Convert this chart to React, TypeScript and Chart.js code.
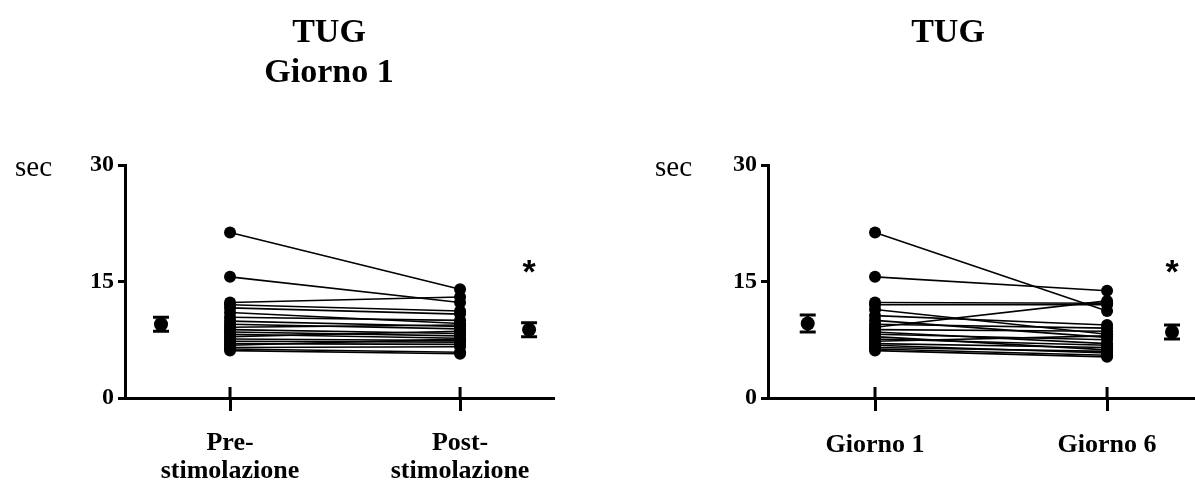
import React, { useEffect, useRef } from 'react';
import { Chart, registerables } from 'chart.js';

Chart.register(...registerables);

// ---------- DATA ----------
const leftTitle = ['TUG', 'Giorno 1'];
const leftCategories = [['Pre-', 'stimolazione'], ['Post-', 'stimolazione']];
const leftPre = [21.3, 15.6, 12.3, 12.0, 11.6, 11.0, 10.4, 9.9, 9.5, 9.1, 8.8, 8.5, 8.2, 7.9, 7.6, 7.3, 7.0, 6.8, 6.5, 6.3, 6.1];
const leftPost = [14.0, 12.3, 13.0, 11.2, 10.8, 9.6, 10.0, 9.2, 8.9, 9.4, 8.3, 8.0, 7.7, 8.6, 7.4, 7.2, 6.9, 7.6, 6.6, 5.9, 5.7];
const leftMeans = [9.5, 8.8];
const leftSem = [0.9, 0.9];

const rightTitle = ['TUG'];
const rightCategories = ['Giorno 1', 'Giorno 6'];
const rightDay1 = [21.3, 15.6, 12.3, 12.0, 11.4, 10.6, 10.0, 9.5, 9.1, 8.8, 8.5, 8.2, 7.9, 7.6, 7.3, 7.0, 6.8, 6.5, 6.3, 6.1];
const rightDay6 = [11.2, 13.8, 12.2, 12.0, 8.2, 9.4, 7.8, 9.0, 12.5, 8.6, 7.0, 7.5, 6.2, 6.8, 8.0, 6.5, 5.8, 6.0, 5.5, 5.3];
const rightMeans = [9.6, 8.5];
const rightSem = [1.1, 0.9];

const yTicks = [0, 15, 30];
const yUnit = 'sec';
const sigMark = '*';
const sigValue = 17.4;

const SERIF = '"Liberation Serif", "Times New Roman", serif';

const extrasPlugin = {
  id: 'extras',
  beforeDatasetsDraw(chart: any, _args: any, opts: any) {
    const { ctx, scales } = chart;
    const x = scales.x, y = scales.y;
    ctx.save();
    ctx.strokeStyle = '#000';
    ctx.lineWidth = 3;
    opts.means.forEach((m: number, i: number) => {
      const px = x.getPixelForValue(opts.meanX[i]);
      const top = y.getPixelForValue(m + opts.sem[i]);
      const bot = y.getPixelForValue(m - opts.sem[i]);
      ctx.beginPath();
      ctx.moveTo(px, top); ctx.lineTo(px, bot);
      ctx.moveTo(px - 8, top); ctx.lineTo(px + 8, top);
      ctx.moveTo(px - 8, bot); ctx.lineTo(px + 8, bot);
      ctx.stroke();
    });
    ctx.restore();
  },
  afterDraw(chart: any, _args: any, opts: any) {
    const { ctx, scales, chartArea } = chart;
    const x = scales.x, y = scales.y;
    ctx.save();
    // upward part of category ticks
    ctx.strokeStyle = '#000';
    ctx.lineWidth = 3;
    x.ticks.forEach((t: any) => {
      const px = x.getPixelForValue(t.value);
      ctx.beginPath();
      ctx.moveTo(px, chartArea.bottom - 11);
      ctx.lineTo(px, chartArea.bottom);
      ctx.stroke();
    });
    // unit label
    ctx.fillStyle = '#000';
    ctx.font = `29px ${SERIF}`;
    ctx.textAlign = 'left';
    ctx.textBaseline = 'alphabetic';
    ctx.fillText(yUnit, chartArea.left - opts.unitOffset, y.getPixelForValue(yTicks[yTicks.length - 1]) + 11);
    // significance mark
    ctx.font = `bold 34px "Liberation Sans", Arial, sans-serif`;
    ctx.textAlign = 'center';
    ctx.fillText(sigMark, x.getPixelForValue(opts.meanX[1]), y.getPixelForValue(sigValue) + 20);
    ctx.restore();
  },
};

function makeConfig(p: any) {
  const datasets: any[] = p.a.map((v: number, i: number) => ({
    type: 'line',
    data: [{ x: 1, y: v }, { x: 2, y: p.b[i] }],
    borderColor: '#000',
    borderWidth: 1.6,
    pointRadius: 6,
    pointBackgroundColor: '#000',
    pointBorderWidth: 0,
    fill: false,
  }));
  datasets.push({
    type: 'scatter',
    data: p.means.map((m: number, i: number) => ({ x: p.meanX[i], y: m })),
    pointRadius: 7,
    pointBackgroundColor: '#000',
    pointBorderWidth: 0,
    showLine: false,
  });
  return {
    type: 'line',
    data: { datasets },
    plugins: [extrasPlugin],
    options: {
      animation: false,
      responsive: false,
      layout: { padding: 0 },
      plugins: {
        legend: { display: false },
        tooltip: { enabled: false },
        title: {
          display: true,
          text: p.title,
          color: '#000',
          font: { family: SERIF, size: 34, weight: 'bold', lineHeight: 40 / 34 },
          padding: { top: 13, bottom: p.titleBottom },
        },
        extras: { means: p.means, sem: p.sem, meanX: p.meanX, unitOffset: p.unitOffset },
      },
      scales: {
        x: {
          type: 'linear',
          min: p.xMin,
          max: p.xMax,
          afterBuildTicks: (s: any) => { s.ticks = [{ value: 1 }, { value: 2 }]; },
          afterFit: (s: any) => { s.height = 93; },
          ticks: {
            color: '#000',
            font: { family: SERIF, size: 26, weight: 'bold', lineHeight: 1.06 },
            padding: p.xPad,
            maxRotation: 0,
            autoSkip: false,
            callback: (v: number) => p.cats[v - 1],
          },
          grid: { drawOnChartArea: false, tickLength: 13, lineWidth: 3, color: '#000' },
          border: { display: true, width: 3, color: '#000' },
        },
        y: {
          type: 'linear',
          min: 0,
          max: 30,
          afterBuildTicks: (s: any) => { s.ticks = yTicks.map((v) => ({ value: v })); },
          afterFit: (s: any) => { s.width = p.yWidth; },
          ticks: {
            color: '#000',
            font: { family: SERIF, size: 24, weight: 'bold' },
            padding: 4,
          },
          grid: { drawOnChartArea: false, tickLength: 7, lineWidth: 3, color: '#000' },
          border: { display: true, width: 3, color: '#000' },
        },
        spacer: {
          type: 'linear',
          position: 'right',
          display: true,
          afterFit: (s: any) => { s.width = p.rightSpace; },
          ticks: { display: false },
          grid: { display: false, drawTicks: false },
          border: { display: false },
        },
      },
    },
  };
}

const leftPanel = {
  title: leftTitle, cats: leftCategories, a: leftPre, b: leftPost, means: leftMeans, sem: leftSem,
  meanX: [0.7, 2.3], xMin: 0.5435, xMax: 2.404, yWidth: 125, rightSpace: 105, titleBottom: 72, unitOffset: 110, xPad: 19,
};
const rightPanel = {
  title: rightTitle, cats: rightCategories, a: rightDay1, b: rightDay6, means: rightMeans, sem: rightSem,
  meanX: [0.71, 2.28], xMin: 0.5388, xMax: 2.379, yWidth: 128, rightSpace: 61, titleBottom: 112, unitOffset: 113, xPad: 21,
};

function Panel({ cfg, left, width }: { cfg: any; left: number; width: number }) {
  const ref = useRef<HTMLCanvasElement>(null);
  useEffect(() => {
    const chart = new Chart(ref.current as HTMLCanvasElement, makeConfig(cfg) as any);
    return () => chart.destroy();
  }, [cfg]);
  return (
    <canvas
      ref={ref}
      width={width}
      height={491}
      style={{ position: 'absolute', left, top: 0, width, height: 491 }}
    />
  );
}

export default function App() {
  return (
    <div style={{ position: 'fixed', left: 0, top: 0, width: 1195, height: 491, background: '#fff', overflow: 'hidden' }}>
      <Panel cfg={leftPanel} left={0} width={658} />
      <Panel cfg={rightPanel} left={640} width={616} />
    </div>
  );
}
